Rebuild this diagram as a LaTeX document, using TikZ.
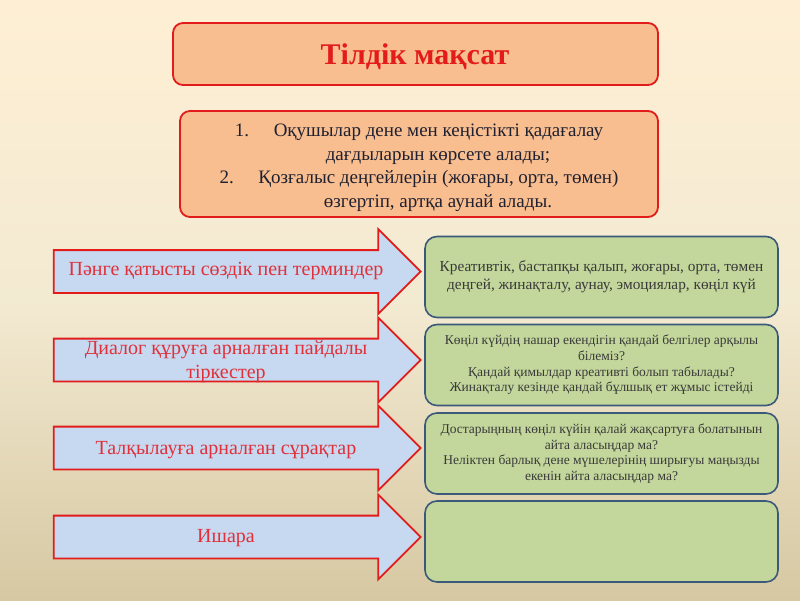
\documentclass[tikz,border=0pt]{standalone}
\usepackage{fontspec}
\setmainfont{Liberation Serif}
\usetikzlibrary{shapes.arrows}

\definecolor{bgtop}{HTML}{FEEFD4}
\definecolor{bgmid}{HTML}{F3EAD2}
\definecolor{bgbot}{HTML}{D6C8A2}
\definecolor{peach}{HTML}{F9BE8F}
\definecolor{redline}{HTML}{E31B1B}
\definecolor{redtext}{HTML}{E0303A}
\definecolor{skyfill}{HTML}{C6D9F0}
\definecolor{olivefill}{HTML}{C3D69B}
\definecolor{slateline}{HTML}{3B5A7A}
\definecolor{inktext}{HTML}{1F2030}
\definecolor{greytext}{HTML}{3A3A3A}

\tikzset{
  peachbox/.style={draw=redline, line width=1.8pt, fill=peach, rounded corners=10pt, inner sep=0pt},
  topicarrow/.style={single arrow, draw=redline, line width=1.8pt, fill=skyfill,
     minimum height=367pt, text height=20.5pt, text depth=20.5pt, text width=0pt,
     single arrow head extend=21pt, inner sep=0pt},
  topictext/.style={text=redtext, font=\fontsize{20}{24}\selectfont, align=center},
  answerbox/.style={draw=slateline, line width=1.6pt, fill=olivefill, rounded corners=12pt,
     minimum width=353pt, minimum height=81pt, inner sep=0pt},
  answertext/.style={text=greytext, align=center}
}

\begin{document}
\begin{tikzpicture}[x=1pt, y=-1pt]
  \useasboundingbox (0,0) rectangle (800,600);
  \shade[top color=bgtop, bottom color=bgbot, middle color=bgmid] (0,0) rectangle (800,600);

  \node[peachbox, minimum width=485pt, minimum height=62pt] (title) at (415.5,54) {};
  \node[text=redline, font=\fontsize{30}{36}\selectfont\bfseries] (titletext) at (415,57) {Тілдік мақсат};

  \node[peachbox, minimum width=478pt, minimum height=106pt] (goals) at (419,164) {};
  \node[text=inktext, font=\fontsize{19}{23.5}\selectfont, align=center] (goalstext) at (419,168)
     {1.\hspace{1.3em}Оқушылар дене мен кеңістікті қадағалау\\
      \hspace*{2em}дағдыларын көрсете алады;\\
      2.\hspace{1.3em}Қозғалыс деңгейлерін (жоғары, орта, төмен)\\
      \hspace*{2em}өзгертіп, артқа аунай алады.};

  \node[topicarrow] (arr1) at (226.5,271.5) {};
  \node[topicarrow] (arr2) at (226.5,360) {};
  \node[topicarrow] (arr3) at (226.5,448) {};
  \node[topicarrow] (arr4) at (226.5,537) {};

  \node[topictext] (topic1) at (226,271) {Пәнге қатысты сөздік пен терминдер};
  \node[topictext] (topic2) at (226,362) {Диалог құруға арналған пайдалы\\тіркестер};
  \node[topictext] (topic3) at (226,450) {Талқылауға арналған сұрақтар};
  \node[topictext] (topic4) at (226,538) {Ишара};

  \node[answerbox] (box1) at (601.5,277) {};
  \node[answerbox] (box2) at (601.5,365) {};
  \node[answerbox] (box3) at (601.5,453.5) {};
  \node[answerbox] (box4) at (601.5,541.5) {};

  \node[answertext, font=\fontsize{15.3}{18}\selectfont] (answer1) at (box1.center)
     {Креативтік, бастапқы қалып, жоғары, орта, төмен\\
      деңгей, жинақталу, аунау, эмоциялар, көңіл күй};
  \node[answertext, font=\fontsize{13.5}{15.7}\selectfont] (answer2) at (box2.center)
     {Көңіл күйдің нашар екендігін қандай белгілер арқылы\\
      білеміз?\\
      Қандай қимылдар креативті болып табылады?\\
      Жинақталу кезінде қандай бұлшық ет жұмыс істейді};
  \node[answertext, font=\fontsize{13.5}{15.7}\selectfont] (answer3) at (box3.center)
     {Достарыңның көңіл күйін қалай жақсартуға болатынын\\
      айта аласыңдар ма?\\
      Неліктен барлық дене мүшелерінің ширығуы маңызды\\
      екенін айта аласыңдар ма?};
\end{tikzpicture}
\end{document}
